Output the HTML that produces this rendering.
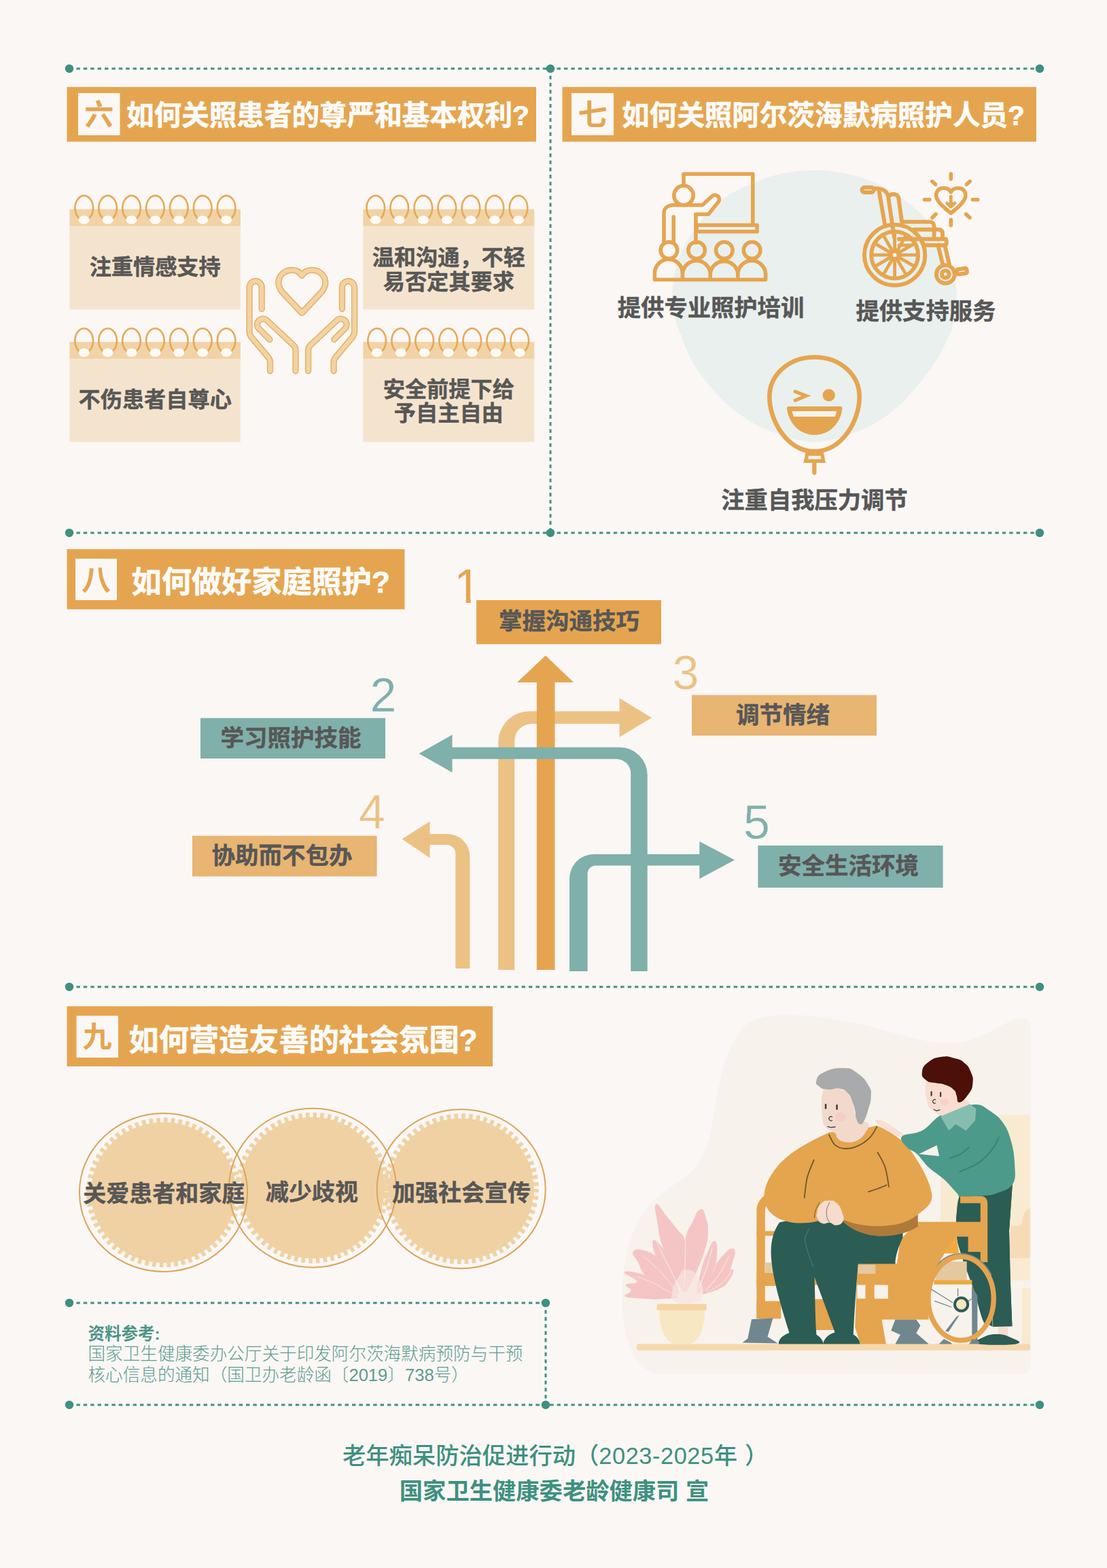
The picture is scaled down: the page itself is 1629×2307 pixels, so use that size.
<!DOCTYPE html>
<html lang="zh-CN">
<head>
<meta charset="utf-8">
<title>阿尔茨海默病照护核心信息</title>
<style>
html,body{margin:0;padding:0;background:#faf7f5;}
body{width:1629px;height:2307px;overflow:hidden;font-family:"Liberation Sans","Noto Sans CJK SC",sans-serif;}
svg{display:block;}
text{font-family:"Liberation Sans","Noto Sans CJK SC",sans-serif;}
.b{font-weight:700;}
.dk{fill:#575757;stroke:#575757;stroke-width:0.45px;stroke-linejoin:round;}
.ht{fill:#fdfbf8;stroke:#fdfbf8;stroke-width:0.7px;stroke-linejoin:round;}
.mid{text-anchor:middle;}
</style>
</head>
<body>
<svg width="1629" height="2307" viewBox="0 0 1629 2307">
<rect width="1629" height="2307" fill="#faf7f5"/>
<g id="dotted" stroke="#3e9080" stroke-width="3" stroke-dasharray="5.4 5" fill="none">
<path d="M102 101H1530"/>
<path d="M810 101V784"/>
<path d="M102 784H1530"/>
<path d="M102 1452H1530"/>
<path d="M102 1917H803"/>
<path d="M803 1917V2067"/>
<path d="M102 2067H1530"/>
</g>
<g id="dots" fill="#3e9080">
<circle cx="102" cy="101" r="6.2"/><circle cx="810" cy="101" r="6.2"/><circle cx="1530" cy="101" r="6.2"/>
<circle cx="102" cy="784" r="6.2"/><circle cx="810" cy="784" r="6.2"/><circle cx="1530" cy="784" r="6.2"/>
<circle cx="102" cy="1452" r="6.2"/><circle cx="1530" cy="1452" r="6.2"/>
<circle cx="102" cy="1917" r="6.2"/><circle cx="803" cy="1917" r="6.2"/>
<circle cx="102" cy="2067" r="6.2"/><circle cx="803" cy="2067" r="6.2"/><circle cx="1530" cy="2067" r="6.2"/>
</g>
<g id="headers">
<rect x="98.5" y="128" width="690.5" height="80.5" fill="#e5a550"/>
<rect x="115" y="137" width="61.5" height="62" fill="#faf7f5"/>
<text x="145.7" y="184" font-size="43" class="b mid" fill="#e5a550">六</text>
<text x="186" y="184" font-size="40.6" class="b ht">如何关照患者的尊严和基本权利?</text>

<rect x="827.5" y="128" width="697.5" height="80.5" fill="#e5a550"/>
<rect x="841" y="137" width="62" height="62" fill="#faf7f5"/>
<text x="872" y="184" font-size="43" class="b mid" fill="#e5a550">七</text>
<text x="915" y="184" font-size="40.6" class="b ht">如何关照阿尔茨海默病照护人员?</text>

<rect x="98.5" y="808" width="497" height="88.5" fill="#e5a550"/>
<rect x="111" y="822" width="61" height="61" fill="#faf7f5"/>
<text x="141.5" y="869" font-size="43" class="b mid" fill="#e5a550">八</text>
<text x="193.5" y="871.5" font-size="44.2" class="b ht">如何做好家庭照护?</text>

<rect x="98.5" y="1480.5" width="626.5" height="88.5" fill="#e5a550"/>
<rect x="112.5" y="1494.5" width="61.5" height="61.5" fill="#faf7f5"/>
<text x="143" y="1541" font-size="43" class="b mid" fill="#e5a550">九</text>
<text x="189.5" y="1546" font-size="44.2" class="b ht">如何营造友善的社会氛围?</text>
</g>
<g id="pads">
<rect x="102.4" y="307.9" width="251.5" height="147.6" fill="#f5e4cd"/>
<rect x="102.4" y="307.9" width="251.5" height="24.6" fill="#f1d3a6"/>
<ellipse cx="123.7" cy="306.1" rx="13.3" ry="18.2" fill="none" stroke="#e6a955" stroke-width="2.6"/>
<ellipse cx="123.7" cy="323.5" rx="8" ry="6.3" fill="#fdfaf6"/>
<ellipse cx="158.6" cy="306.1" rx="13.3" ry="18.2" fill="none" stroke="#e6a955" stroke-width="2.6"/>
<ellipse cx="158.6" cy="323.5" rx="8" ry="6.3" fill="#fdfaf6"/>
<ellipse cx="193.5" cy="306.1" rx="13.3" ry="18.2" fill="none" stroke="#e6a955" stroke-width="2.6"/>
<ellipse cx="193.5" cy="323.5" rx="8" ry="6.3" fill="#fdfaf6"/>
<ellipse cx="228.4" cy="306.1" rx="13.3" ry="18.2" fill="none" stroke="#e6a955" stroke-width="2.6"/>
<ellipse cx="228.4" cy="323.5" rx="8" ry="6.3" fill="#fdfaf6"/>
<ellipse cx="263.3" cy="306.1" rx="13.3" ry="18.2" fill="none" stroke="#e6a955" stroke-width="2.6"/>
<ellipse cx="263.3" cy="323.5" rx="8" ry="6.3" fill="#fdfaf6"/>
<ellipse cx="298.2" cy="306.1" rx="13.3" ry="18.2" fill="none" stroke="#e6a955" stroke-width="2.6"/>
<ellipse cx="298.2" cy="323.5" rx="8" ry="6.3" fill="#fdfaf6"/>
<ellipse cx="333.1" cy="306.1" rx="13.3" ry="18.2" fill="none" stroke="#e6a955" stroke-width="2.6"/>
<ellipse cx="333.1" cy="323.5" rx="8" ry="6.3" fill="#fdfaf6"/>
<text x="228.2" y="404.2" font-size="32.2" class="b dk mid">注重情感支持</text>
<rect x="534.4" y="307.9" width="251.8" height="147.6" fill="#f5e4cd"/>
<rect x="534.4" y="307.9" width="251.8" height="24.6" fill="#f1d3a6"/>
<ellipse cx="552.7" cy="306.1" rx="13.3" ry="18.2" fill="none" stroke="#e6a955" stroke-width="2.6"/>
<ellipse cx="552.7" cy="323.5" rx="8" ry="6.3" fill="#fdfaf6"/>
<ellipse cx="587.7" cy="306.1" rx="13.3" ry="18.2" fill="none" stroke="#e6a955" stroke-width="2.6"/>
<ellipse cx="587.7" cy="323.5" rx="8" ry="6.3" fill="#fdfaf6"/>
<ellipse cx="622.8" cy="306.1" rx="13.3" ry="18.2" fill="none" stroke="#e6a955" stroke-width="2.6"/>
<ellipse cx="622.8" cy="323.5" rx="8" ry="6.3" fill="#fdfaf6"/>
<ellipse cx="657.8" cy="306.1" rx="13.3" ry="18.2" fill="none" stroke="#e6a955" stroke-width="2.6"/>
<ellipse cx="657.8" cy="323.5" rx="8" ry="6.3" fill="#fdfaf6"/>
<ellipse cx="692.9" cy="306.1" rx="13.3" ry="18.2" fill="none" stroke="#e6a955" stroke-width="2.6"/>
<ellipse cx="692.9" cy="323.5" rx="8" ry="6.3" fill="#fdfaf6"/>
<ellipse cx="727.9" cy="306.1" rx="13.3" ry="18.2" fill="none" stroke="#e6a955" stroke-width="2.6"/>
<ellipse cx="727.9" cy="323.5" rx="8" ry="6.3" fill="#fdfaf6"/>
<ellipse cx="763.0" cy="306.1" rx="13.3" ry="18.2" fill="none" stroke="#e6a955" stroke-width="2.6"/>
<ellipse cx="763.0" cy="323.5" rx="8" ry="6.3" fill="#fdfaf6"/>
<text x="660.3" y="389.7" font-size="32.2" class="b dk mid">温和沟通，不轻</text>
<text x="660.3" y="425.7" font-size="32.2" class="b dk mid">易否定其要求</text>
<rect x="102.4" y="503.2" width="251.5" height="147" fill="#f5e4cd"/>
<rect x="102.4" y="503.2" width="251.5" height="24.6" fill="#f1d3a6"/>
<ellipse cx="123.7" cy="501.4" rx="13.3" ry="18.2" fill="none" stroke="#e6a955" stroke-width="2.6"/>
<ellipse cx="123.7" cy="518.8" rx="8" ry="6.3" fill="#fdfaf6"/>
<ellipse cx="158.6" cy="501.4" rx="13.3" ry="18.2" fill="none" stroke="#e6a955" stroke-width="2.6"/>
<ellipse cx="158.6" cy="518.8" rx="8" ry="6.3" fill="#fdfaf6"/>
<ellipse cx="193.5" cy="501.4" rx="13.3" ry="18.2" fill="none" stroke="#e6a955" stroke-width="2.6"/>
<ellipse cx="193.5" cy="518.8" rx="8" ry="6.3" fill="#fdfaf6"/>
<ellipse cx="228.4" cy="501.4" rx="13.3" ry="18.2" fill="none" stroke="#e6a955" stroke-width="2.6"/>
<ellipse cx="228.4" cy="518.8" rx="8" ry="6.3" fill="#fdfaf6"/>
<ellipse cx="263.3" cy="501.4" rx="13.3" ry="18.2" fill="none" stroke="#e6a955" stroke-width="2.6"/>
<ellipse cx="263.3" cy="518.8" rx="8" ry="6.3" fill="#fdfaf6"/>
<ellipse cx="298.2" cy="501.4" rx="13.3" ry="18.2" fill="none" stroke="#e6a955" stroke-width="2.6"/>
<ellipse cx="298.2" cy="518.8" rx="8" ry="6.3" fill="#fdfaf6"/>
<ellipse cx="333.1" cy="501.4" rx="13.3" ry="18.2" fill="none" stroke="#e6a955" stroke-width="2.6"/>
<ellipse cx="333.1" cy="518.8" rx="8" ry="6.3" fill="#fdfaf6"/>
<text x="228.2" y="598.5" font-size="32.2" class="b dk mid">不伤患者自尊心</text>
<rect x="534.4" y="503.2" width="251.8" height="147" fill="#f5e4cd"/>
<rect x="534.4" y="503.2" width="251.8" height="24.6" fill="#f1d3a6"/>
<ellipse cx="554.7" cy="501.4" rx="13.3" ry="18.2" fill="none" stroke="#e6a955" stroke-width="2.6"/>
<ellipse cx="554.7" cy="518.8" rx="8" ry="6.3" fill="#fdfaf6"/>
<ellipse cx="589.7" cy="501.4" rx="13.3" ry="18.2" fill="none" stroke="#e6a955" stroke-width="2.6"/>
<ellipse cx="589.7" cy="518.8" rx="8" ry="6.3" fill="#fdfaf6"/>
<ellipse cx="624.7" cy="501.4" rx="13.3" ry="18.2" fill="none" stroke="#e6a955" stroke-width="2.6"/>
<ellipse cx="624.7" cy="518.8" rx="8" ry="6.3" fill="#fdfaf6"/>
<ellipse cx="659.7" cy="501.4" rx="13.3" ry="18.2" fill="none" stroke="#e6a955" stroke-width="2.6"/>
<ellipse cx="659.7" cy="518.8" rx="8" ry="6.3" fill="#fdfaf6"/>
<ellipse cx="694.7" cy="501.4" rx="13.3" ry="18.2" fill="none" stroke="#e6a955" stroke-width="2.6"/>
<ellipse cx="694.7" cy="518.8" rx="8" ry="6.3" fill="#fdfaf6"/>
<ellipse cx="729.7" cy="501.4" rx="13.3" ry="18.2" fill="none" stroke="#e6a955" stroke-width="2.6"/>
<ellipse cx="729.7" cy="518.8" rx="8" ry="6.3" fill="#fdfaf6"/>
<ellipse cx="764.7" cy="501.4" rx="13.3" ry="18.2" fill="none" stroke="#e6a955" stroke-width="2.6"/>
<ellipse cx="764.7" cy="518.8" rx="8" ry="6.3" fill="#fdfaf6"/>
<text x="660.3" y="583.7" font-size="32.2" class="b dk mid">安全前提下给</text>
<text x="660.3" y="618.7" font-size="32.2" class="b dk mid">予自主自由</text>
</g>
<g id="hands" fill="none" stroke-linecap="round" stroke-linejoin="round">
<g stroke="#e6ad62" stroke-width="9.2">
<path d="M444.3 405.5C441 399.5 435.5 397.4 429.5 397.4C418.5 397.4 409.8 405.5 409.8 416C409.8 422.5 412.5 427 417.5 432L444.3 460.5L471.1 432C476.1 427 478.8 422.5 478.8 416C478.8 405.5 470.1 397.4 459.1 397.4C453.1 397.4 447.6 399.5 444.3 405.5Z"/>
<path d="M385.2 454.4V422.7A9.1 9.1 0 0 0 367 422.7V488C367 491 367.8 493 369.5 495.5L395 526C396.8 528.3 397.5 530 397.5 533V545.8"/>
<path d="M396.9 499.5L381 483.5A8.2 8.2 0 0 1 393 471.5L432 508C434.3 510.3 435 512 435 515V545.8"/>
<path d="M503.4 454.4V422.7A9.1 9.1 0 0 1 521.6 422.7V488C521.6 491 520.8 493 519.1 495.5L493.6 526C491.8 528.3 491.1 530 491.1 533V545.8"/>
<path d="M491.7 499.5L507.6 483.5A8.2 8.2 0 0 0 495.6 471.5L456.6 508C454.3 510.3 453.6 512 453.6 515V545.8"/>
</g>
<g stroke="#f2d3a2" stroke-width="6.4">
<path d="M444.3 405.5C441 399.5 435.5 397.4 429.5 397.4C418.5 397.4 409.8 405.5 409.8 416C409.8 422.5 412.5 427 417.5 432L444.3 460.5L471.1 432C476.1 427 478.8 422.5 478.8 416C478.8 405.5 470.1 397.4 459.1 397.4C453.1 397.4 447.6 399.5 444.3 405.5Z"/>
<path d="M385.2 454.4V422.7A9.1 9.1 0 0 0 367 422.7V488C367 491 367.8 493 369.5 495.5L395 526C396.8 528.3 397.5 530 397.5 533V545.8"/>
<path d="M396.9 499.5L381 483.5A8.2 8.2 0 0 1 393 471.5L432 508C434.3 510.3 435 512 435 515V545.8"/>
<path d="M503.4 454.4V422.7A9.1 9.1 0 0 1 521.6 422.7V488C521.6 491 520.8 493 519.1 495.5L493.6 526C491.8 528.3 491.1 530 491.1 533V545.8"/>
<path d="M491.7 499.5L507.6 483.5A8.2 8.2 0 0 0 495.6 471.5L456.6 508C454.3 510.3 453.6 512 453.6 515V545.8"/>
</g>
</g>
<g id="sec7">
<path id="blob" d="M1198.0 250.5C1215.5 250.1 1229.7 252.3 1245.0 255.5C1260.3 258.7 1275.8 263.2 1290.0 269.5C1304.2 275.8 1318.0 284.2 1330.0 293.0C1342.0 301.8 1352.3 310.8 1362.0 322.0C1371.7 333.2 1381.3 347.8 1388.0 360.0C1394.7 372.2 1398.8 383.3 1402.0 395.0C1405.2 406.7 1406.7 418.3 1407.0 430.0C1407.3 441.7 1405.6 454.6 1404.0 465.0C1402.4 475.4 1403.0 479.5 1397.3 492.3C1391.6 505.1 1382.8 524.0 1370.0 541.7C1357.2 559.4 1338.0 583.2 1320.8 598.4C1303.5 613.6 1287.1 624.4 1266.5 633.0C1245.9 641.6 1220.0 650.3 1197.4 650.3C1174.8 650.3 1151.4 641.6 1130.8 633.0C1110.2 624.4 1091.7 613.6 1074.0 598.4C1056.3 583.2 1037.0 560.2 1024.7 541.7C1012.4 523.2 1005.6 501.0 1000.0 487.4C994.4 473.8 992.8 469.6 991.0 460.0C989.2 450.4 988.8 441.3 989.5 430.0C990.2 418.7 991.8 404.0 995.0 392.0C998.2 380.0 1003.2 368.8 1009.0 358.0C1014.8 347.2 1022.3 336.7 1030.0 327.0C1037.7 317.3 1045.8 307.8 1055.0 300.0C1064.2 292.2 1070.8 287.0 1085.0 280.0C1099.2 273.0 1121.2 262.9 1140.0 258.0C1158.8 253.1 1180.5 250.9 1198.0 250.5Z" fill="#e9f0ee"/>
<g id="train" fill="none" stroke="#e5a550" stroke-width="5.6" stroke-linejoin="round" stroke-linecap="round">
<path d="M1006 272V256H1107.8V329"/>
<rect x="1025.1" y="331.3" width="89" height="9.4"/>
<circle cx="1006" cy="287.5" r="14.2"/>
<path d="M977 357V314C977 306 983 301.7 991 301.7H1033.5L1048 288.5A6.3 6.3 0 0 1 1057.5 296.5L1042.5 315.3H1023.9V357"/>
<path d="M991.2 319V357"/>
<circle cx="984.4" cy="368.3" r="12.3"/>
<circle cx="1025.1" cy="368.3" r="12.3"/>
<circle cx="1065.8" cy="368.3" r="12.3"/>
<circle cx="1106.6" cy="368.3" r="12.3"/>
<path d="M963.4 411.5V402A20.5 20.5 0 0 1 1004.4 402V411.5M1004.4 402A20.5 20.5 0 0 1 1045.2 402V411.5M1045.2 402A20.5 20.5 0 0 1 1085.8 402V411.5M1085.8 402A20.5 20.5 0 0 1 1126.6 402V411.5M963.4 411.5H1126.6"/>
</g>
<g id="wheelchair" transform="translate(0 1.3)" fill="none" stroke="#e5a550" stroke-width="5.9" stroke-linejoin="round" stroke-linecap="round">
<circle cx="1316.6" cy="373.9" r="44.6"/>
<circle cx="1316.6" cy="373.9" r="34.4"/>
<path d="M1323.6 373.9L1350.6 373.9M1322.7 377.4L1346.1 390.9M1320.1 379.9L1333.6 403.3M1316.6 380.9L1316.6 407.9M1313.1 379.9L1299.6 403.3M1310.6 377.4L1287.2 390.9M1309.6 373.9L1282.6 373.9M1310.6 370.4L1287.2 356.9M1313.1 367.8L1299.6 344.4M1316.6 366.9L1316.6 339.9M1320.1 367.8L1333.6 344.4M1322.7 370.4L1346.1 356.9" stroke-width="4.8"/>
<circle cx="1316.6" cy="373.9" r="5.4" stroke-width="5"/>
<rect x="1268.5" y="274.5" width="17.3" height="7.2" rx="3.5"/>
<path d="M1293.8 281.3L1302.4 330.7"/>
<path d="M1287.0 276.0C1299.4 276.0 1305.5 279.5 1307.0 288.1L1316.0 348.6"/>
<path d="M1308.0 287.5C1310.5 283.2 1320.3 283.2 1322.2 289.4L1327.1 325.1"/>
<path d="M1329.6 325.1L1367.2 325.1Q1374.6 325.1 1374.6 332.5L1374.6 349.2"/>
<path d="M1345.0 336.5L1380.8 336.5Q1387.0 336.5 1387.0 342.4L1387.0 349.2"/>
<path d="M1322.8 350.4L1391.9 350.4Q1393.7 354.7 1391.9 359.4L1359.8 359.4"/>
<path d="M1322.8 359.4L1341.3 359.4" stroke-width="4.4"/>
<path d="M1380.8 361.5L1387.2 387.4M1390.7 361.5L1397.1 388.1"/>
<circle cx="1391.3" cy="402.2" r="13.4"/>
<circle cx="1391.3" cy="402.2" r="5.4"/>
<rect x="1407.8" y="394.2" width="15" height="7.4" rx="2" transform="rotate(-8 1415.3 397.9)"/>
</g>
<g id="hrt" transform="translate(0 1.3)" fill="none" stroke="#e5a550" stroke-width="5.6" stroke-linejoin="round" stroke-linecap="round">
<path d="M1399.3 281.3C1395.6 274.5 1389.4 275.2 1385.7 275.8C1379.5 277.0 1377.1 282.6 1377.7 287.5C1378.9 294.3 1384.5 300.5 1399.3 312.2C1414.1 300.5 1419.6 294.3 1420.9 287.5C1421.5 282.6 1419.0 277.0 1412.9 275.8C1409.2 275.2 1403.0 274.5 1399.3 281.3Z"/>
<path d="M1399.3 287.5L1399.3 302.3M1393.7 297.7L1399.3 302.9L1404.8 297.7" stroke-width="4.8"/>
<path d="M1399.3 254.6L1399.3 262.0M1399.3 322.0L1399.3 330.1M1360.4 292.4L1367.8 292.4M1431.4 292.4L1438.8 292.4M1371.9 265.7L1376.5 270.0M1427.1 265.7L1422.5 270.0M1371.9 319.0L1377.1 313.8M1421.5 313.8L1427.1 319.0"/>
</g>
<g id="balloon" fill="none" stroke="#e5a550" stroke-width="6.6" stroke-linejoin="round" stroke-linecap="round">
<path d="M1198.7 525.5C1237.0 525.5 1264.7 551.8 1264.7 583.9C1264.7 618.4 1239.4 664.1 1198.7 664.1C1158.0 664.1 1132.3 618.4 1132.3 583.9C1132.3 551.8 1160.5 525.5 1198.7 525.5Z"/>
<path d="M1187.8 668.0L1209.6 668.0L1211.7 678.3L1185.7 678.3Z" stroke-width="5.4" stroke-linejoin="miter"/>
<path d="M1198.3 681.4L1198.3 695.6" stroke-width="6.2"/>
<path d="M1170.1 576.2L1186.4 582.4L1170.1 589.1" stroke-width="5" stroke-linejoin="miter"/>
<circle cx="1219.7" cy="581.4" r="9.2" fill="#e5a550" stroke="none"/>
<path d="M1160.5 598.1L1237.0 598.1Q1239.7 598.1 1239.4 601.2C1237.0 623.4 1219.7 640.0 1198.7 640.0C1177.7 640.0 1160.5 623.4 1158.0 601.2Q1157.7 598.1 1160.5 598.1Z" fill="#e5a550" stroke="none"/>
<path d="M1165.4 604.9L1231.4 604.9L1228.9 612.9L1167.9 612.9Z" fill="#f3f3ee" stroke="none"/>
</g>
<text x="1046" y="465" font-size="34.3" class="b dk mid">提供专业照护培训</text>
<text x="1362.4" y="470" font-size="34.3" class="b dk mid">提供支持服务</text>
<text x="1198.5" y="748" font-size="34.3" class="b dk mid">注重自我压力调节</text>
</g>
<g id="sec8">
<path id="arrow3" fill="#ecc284" d="M733.2 1427V1092.5A46 46 0 0 1 779.2 1046.5H911.6V1027.3L959 1056L911.6 1084.6V1065H782.2A25 25 0 0 0 757.2 1090V1427Z"/>
<path id="arrow1" fill="#e5a550" d="M789.8 1427V1004H761L802.8 964.4L844.2 1004H816.5V1427Z"/>
<path id="arrow2" fill="#80b0aa" d="M952.7 1429V1140.5A41 41 0 0 0 911.7 1099.5H665.5V1081L616.6 1108.7L665.5 1136.5V1116.8H907.2A21 21 0 0 1 928.2 1137.8V1429Z"/>
<path id="arrow4" fill="#ecc284" d="M691.4 1425V1260A33 33 0 0 0 658.4 1227H632.5V1208.6L591.5 1234.5L632.5 1262.3V1243H657.3A13 13 0 0 1 670.3 1256V1425Z"/>
<path id="arrow5" fill="#80b0aa" d="M838 1429V1292.8A36 36 0 0 1 874 1256.8H1029.3V1238L1081 1265.3L1029.3 1293V1273.4H876.6A12 12 0 0 0 864.6 1285.4V1429Z"/>

<rect x="701" y="883" width="272" height="64.7" fill="#e5a550"/>
<text x="837.5" y="925.5" font-size="34.5" class="b dk mid">掌握沟通技巧</text>
<rect x="295" y="1056.5" width="272" height="59.5" fill="#80b0aa"/>
<text x="428" y="1098.2" font-size="34.5" class="b dk mid">学习照护技能</text>
<rect x="1018" y="1022.6" width="272" height="59.8" fill="#e8b572"/>
<text x="1152" y="1064.2" font-size="34.5" class="b dk mid">调节情绪</text>
<rect x="283" y="1229.7" width="271.6" height="59.8" fill="#e8b572"/>
<text x="415" y="1271.4" font-size="34.5" class="b dk mid">协助而不包办</text>
<rect x="1115.4" y="1244" width="272.2" height="62" fill="#80b0aa"/>
<text x="1248.5" y="1286.3" font-size="34.5" class="b dk mid">安全生活环境</text>

<clipPath id="c1"><path d="M660 820H700V880H692.6V890H685.7V880H660Z"/></clipPath>
<g font-size="70" class="mid" stroke="#faf7f5" stroke-width="0.4">
<text id="n1" x="687.8" y="887.2" fill="#e5a550" stroke="none" clip-path="url(#c1)">1</text>
<text id="n2" x="564" y="1047.4" fill="#80b0aa">2</text>
<text id="n3" x="1009" y="1013.6" fill="#ebc284">3</text>
<text id="n4" x="547.5" y="1218.6" fill="#ebc284">4</text>
<text id="n5" x="1113.4" y="1234.2" fill="#80b0aa">5</text>
</g>
</g>
<g id="sec9">
<g transform="translate(240.5 1754.5) scale(1 0.9698)"><circle r="106.6" fill="#f0d1a3"/><circle r="109.9" fill="none" stroke="#f0d1a3" stroke-width="7.6" stroke-dasharray="5.610 5.179"/></g>
<g transform="translate(460 1747.7) scale(1 0.9810)"><circle r="106.0" fill="#f0d1a3"/><circle r="109.3" fill="none" stroke="#f0d1a3" stroke-width="7.6" stroke-dasharray="5.580 5.151"/></g>
<g transform="translate(678.7 1749.2) scale(1 0.9718)"><circle r="107.0" fill="#f0d1a3"/><circle r="110.3" fill="none" stroke="#f0d1a3" stroke-width="7.6" stroke-dasharray="5.631 5.198"/></g>
<ellipse cx="240.5" cy="1754.5" rx="123.6" ry="116.4" fill="none" stroke="#dca45a" stroke-width="2"/>
<ellipse cx="460" cy="1747.7" rx="123.0" ry="117.0" fill="none" stroke="#dca45a" stroke-width="2"/>
<ellipse cx="678.7" cy="1749.2" rx="124.0" ry="117.0" fill="none" stroke="#dca45a" stroke-width="2"/>
<text x="241.2" y="1768.3" font-size="34" class="b dk mid">关爱患者和家庭</text>
<text x="459" y="1766" font-size="34" class="b dk mid">减少歧视</text>
<text x="679" y="1767" font-size="34" class="b dk mid">加强社会宣传</text>
</g>
<g id="ref" fill="#5c9d90">
<text x="129.5" y="1970.5" font-size="24.5" font-weight="700" fill="#4d9586">资料参考:</text>
<text x="129.5" y="2001" font-size="25.6" font-weight="300">国家卫生健康委办公厅关于印发阿尔茨海默病预防与干预</text>
<text x="129.5" y="2031.7" font-size="25.6" font-weight="300">核心信息的通知（国卫办老龄函〔2019〕738号）</text>
</g>
<g id="footer" fill="#3e9080" class="mid">
<text x="504" y="2153.5" font-size="34.3" font-weight="500" text-anchor="start">老年痴呆防治促进行动（<tspan letter-spacing="0.6">2023-2025</tspan>年<tspan dx="11">）</tspan></text>
<text x="815.5" y="2205.7" font-size="34.3" class="b">国家卫生健康委老龄健康司 宣</text>
</g>
<g id="illus">
<path d="M1117.6 1497.5C1148.7 1489.7 1195.4 1493.6 1249.8 1503.3C1304.2 1513.0 1358.6 1538.3 1405.2 1534.4C1444.1 1531.3 1475.2 1503.3 1498.5 1498.7C1512.1 1496.3 1517.2 1503.3 1517.2 1518.9L1517.2 2000.8C1517.2 2016.3 1512.1 2022.2 1498.5 2022.2L977.7 2022.2C946.6 2022.2 923.3 1996.9 917.5 1938.6C911.7 1880.3 919.4 1822.0 950.5 1779.3C977.7 1744.3 1016.6 1736.5 1034.1 1701.5C1051.6 1666.6 1051.6 1608.3 1067.1 1561.6C1078.8 1526.6 1094.3 1503.3 1117.6 1497.5Z" fill="#f7f2ec"/>
<path d="M1468.7 1646.0Q1468.7 1640.3 1474.4 1640.3L1515.7 1640.3L1515.7 1883.7L1468.7 1883.7Z" fill="#f8ebd2"/>
<rect x="1384.3" y="1732.3" width="32.6" height="67.1" fill="#f8ead0"/>
<path d="M1515.7 1778.3C1508.0 1780.2 1505.1 1787.9 1504.2 1797.4C1503.2 1803.2 1499.4 1803.6 1486.9 1804.2L1486.3 1851.1L1515.7 1851.1Z" fill="#f6dcb6"/>
<rect x="1503.6" y="1895.2" width="12.1" height="83.4" fill="#f8ead0"/>
<rect x="937" y="1977.3" width="579" height="9.4" rx="3" fill="#f6d8ad"/>
<path d="M965.4 1771.8C969.3 1769.2 973.8 1781.0 982.7 1791.6C991.5 1802.1 992.1 1802.7 998.7 1811.3C1005.3 1819.9 1002.7 1811.1 1007.3 1823.6C1011.9 1836.1 1015.6 1838.4 1016.0 1858.2C1016.3 1877.9 1013.2 1889.1 1008.6 1897.7C1004.0 1906.2 1004.6 1900.1 998.7 1890.3C992.8 1880.4 992.9 1876.4 986.4 1860.7C979.8 1844.9 979.0 1846.8 974.0 1831.0C969.1 1815.2 970.2 1817.2 967.9 1801.4C965.6 1785.6 961.4 1774.5 965.4 1771.8Z" fill="#f5c5c5"/>
<path d="M1030.8 1779.2C1036.4 1777.9 1036.5 1784.8 1039.4 1794.0C1042.4 1803.2 1042.2 1802.6 1041.9 1813.8C1041.6 1825.0 1041.8 1822.8 1038.2 1836.0C1034.6 1849.1 1034.2 1848.6 1028.3 1863.1C1022.4 1877.6 1021.6 1881.1 1016.0 1890.3C1010.4 1899.5 1010.0 1906.2 1007.3 1897.7C1004.7 1889.1 1005.8 1877.9 1006.1 1858.2C1006.4 1838.4 1005.3 1839.4 1008.6 1823.6C1011.9 1807.8 1012.5 1810.8 1018.4 1799.0C1024.4 1787.1 1025.2 1780.5 1030.8 1779.2Z" fill="#f5c5c5"/>
<path d="M960.5 1826.1C962.4 1819.5 971.1 1831.0 979.0 1840.9C986.9 1850.8 985.1 1848.0 990.1 1863.1C995.0 1878.3 998.5 1890.4 997.5 1897.7C996.5 1904.9 993.3 1898.8 986.4 1890.3C979.5 1881.7 978.5 1882.7 971.6 1865.6C964.7 1848.5 958.5 1832.7 960.5 1826.1Z" fill="#f5c5c5"/>
<path d="M932.1 1840.9C936.0 1836.6 943.1 1837.5 954.3 1842.1C965.5 1846.8 964.2 1846.7 974.0 1858.2C983.9 1869.7 985.1 1872.8 991.3 1885.3C997.6 1897.8 1002.1 1903.1 997.5 1905.1C992.9 1907.0 986.9 1900.6 974.0 1892.7C961.2 1884.8 958.6 1884.7 949.4 1875.5C940.1 1866.2 944.1 1867.4 939.5 1858.2C934.9 1849.0 928.1 1845.2 932.1 1840.9Z" fill="#f5c5c5"/>
<path d="M918.5 1871.8C920.2 1869.2 931.5 1870.5 944.4 1874.2C957.4 1878.0 961.6 1880.3 974.0 1887.8C986.4 1895.3 997.5 1900.8 997.5 1906.3C997.5 1911.8 986.4 1910.3 974.0 1911.2C961.6 1912.2 957.1 1911.4 944.4 1910.5C931.7 1909.6 923.5 1910.2 919.7 1907.5C916.0 1904.8 928.1 1902.9 928.4 1898.9C928.7 1894.9 919.0 1893.4 921.0 1890.3C923.0 1887.1 937.6 1889.6 937.0 1885.3C936.4 1881.0 916.8 1874.3 918.5 1871.8Z" fill="#f5c5c5"/>
<path d="M1051.8 1826.1C1055.6 1827.4 1056.0 1835.8 1055.0 1848.3C1054.0 1860.8 1053.2 1860.5 1048.1 1873.0C1042.9 1885.5 1041.6 1888.0 1035.7 1895.2C1029.8 1902.4 1027.2 1906.1 1025.8 1900.1C1024.5 1894.2 1026.8 1888.1 1030.8 1873.0C1034.7 1857.9 1035.1 1855.9 1040.7 1843.4C1046.2 1830.9 1047.9 1824.8 1051.8 1826.1Z" fill="#f5c5c5"/>
<path d="M1079.6 1837.2C1084.2 1839.2 1080.8 1847.3 1077.7 1858.2C1074.5 1869.0 1075.7 1867.7 1067.8 1877.9C1059.9 1888.1 1057.3 1890.2 1048.1 1896.4C1038.8 1902.7 1033.3 1907.6 1033.3 1901.4C1033.3 1895.1 1040.8 1886.5 1048.1 1873.0C1055.3 1859.5 1052.0 1860.3 1060.4 1850.8C1068.8 1841.2 1075.0 1835.2 1079.6 1837.2Z" fill="#f5c5c5"/>
<path d="M1078.9 1868.1C1080.2 1870.7 1078.3 1876.5 1072.7 1884.1C1067.1 1891.7 1068.5 1891.5 1057.9 1896.4C1047.4 1901.4 1034.6 1904.9 1033.3 1902.6C1031.9 1900.3 1043.8 1895.4 1053.0 1887.8C1062.2 1880.2 1060.9 1879.5 1067.8 1874.2C1074.7 1869.0 1077.6 1865.4 1078.9 1868.1Z" fill="#f5c5c5"/>
<path d="M998.7 1877.9C1004.6 1868.7 1003.1 1867.4 1011.0 1868.1C1018.9 1868.7 1022.4 1869.9 1028.3 1880.4C1034.2 1890.9 1036.5 1897.7 1033.3 1907.5C1030.0 1917.4 1026.5 1915.4 1016.0 1917.4C1005.4 1919.4 1001.0 1918.9 993.8 1914.9C986.5 1911.0 987.5 1912.5 988.8 1902.6C990.2 1892.7 992.8 1887.1 998.7 1877.9Z" fill="#f8e4e0" fill-opacity="0.7"/>
<path d="M966.6 1828.6C968.7 1832.7 974.9 1845.0 979.0 1853.3C983.1 1861.5 987.8 1870.5 991.3 1877.9C994.8 1885.3 998.5 1894.4 999.9 1897.7" fill="none" stroke="#f7f2ec" stroke-width="1.1" stroke-linecap="round" opacity="0.75"/>
<path d="M946.9 1848.3C950.6 1851.6 962.5 1861.5 969.1 1868.1C975.7 1874.6 981.6 1881.8 986.4 1887.8C991.1 1893.8 995.6 1901.2 997.5 1903.8" fill="none" stroke="#f7f2ec" stroke-width="1.0" stroke-linecap="round" opacity="0.75"/>
<path d="M937.0 1877.9C941.1 1879.6 953.9 1884.1 961.7 1887.8C969.5 1891.5 977.9 1896.9 983.9 1900.1C989.9 1903.3 995.2 1905.9 997.5 1907.0" fill="none" stroke="#f7f2ec" stroke-width="1.0" stroke-linecap="round" opacity="0.75"/>
<path d="M1008.6 1826.1C1008.5 1831.5 1008.4 1847.1 1008.1 1858.2C1007.8 1869.3 1006.8 1887.0 1006.6 1892.7" fill="none" stroke="#f7f2ec" stroke-width="1.1" stroke-linecap="round" opacity="0.75"/>
<path d="M1048.1 1836.0C1046.8 1840.5 1043.9 1853.3 1040.7 1863.1C1037.4 1873.0 1030.4 1889.9 1028.3 1895.2" fill="none" stroke="#f7f2ec" stroke-width="1.3" stroke-linecap="round" opacity="0.75"/>
<path d="M1072.7 1848.3C1070.3 1852.8 1063.7 1867.0 1057.9 1875.5C1052.2 1883.9 1041.5 1895.0 1038.2 1898.9" fill="none" stroke="#f7f2ec" stroke-width="1.1" stroke-linecap="round" opacity="0.75"/>
<path d="M1076.4 1870.5C1074.2 1873.4 1068.8 1882.7 1062.9 1887.8C1056.9 1892.9 1044.4 1899.1 1040.7 1901.4" fill="none" stroke="#f7f2ec" stroke-width="1.0" stroke-linecap="round" opacity="0.75"/>
<path d="M970.3 1924.8L1037.0 1924.8C1037.7 1942.1 1034.5 1956.9 1027.1 1968.0C1023.4 1974.2 1018.4 1977.1 1012.3 1977.1L995.0 1977.1C988.8 1977.1 983.9 1974.2 980.2 1968.0C972.8 1956.9 969.6 1942.1 970.3 1924.8Z" fill="#f8e7c3"/>
<rect x="966.6" y="1918.6" width="73.3" height="9.1" fill="#f6d4a4" rx="2.5"/>
<path d="M1412.1 1756.2L1489.8 1742.8L1485.0 1810.9L1486.9 1887.5L1489.4 1951.2L1461.4 1951.9L1460.6 1906.7L1457.2 1885.6L1447.6 1866.5L1434.2 1855.9L1422.7 1855.0L1418.8 1855.0L1432.3 1895.2L1447.6 1943.1L1453.4 1945.0L1460.1 1914.4L1460.6 1951.9L1447.6 1945.0L1432.3 1896.2L1417.3 1855.0L1408.9 1826.2L1407.0 1791.7Z" fill="#2b5d54"/>
<path d="M1407.3 1791.7C1406.6 1802.9 1407.0 1815.3 1408.9 1826.2C1410.8 1837.1 1415.0 1845.4 1418.8 1856.9C1422.7 1868.4 1427.6 1880.8 1432.3 1895.2C1436.9 1909.6 1443.1 1934.8 1446.6 1943.1C1450.2 1951.4 1451.2 1949.5 1453.4 1945.0C1455.5 1940.6 1459.0 1926.5 1459.5 1916.3C1460.0 1906.1 1457.6 1894.9 1456.2 1883.7C1454.9 1872.5 1451.9 1864.5 1451.4 1849.2C1451.0 1833.9 1456.2 1806.1 1453.4 1791.7C1450.5 1777.3 1440.9 1768.4 1434.2 1762.9C1427.5 1757.5 1417.6 1754.3 1413.1 1759.1C1408.6 1763.9 1408.1 1780.5 1407.3 1791.7Z" fill="#2b5d54"/>
<path d="M1453.4 1757.2L1489.8 1742.8L1485.0 1810.9L1486.9 1887.5L1489.4 1951.2L1461.4 1951.9L1460.1 1887.5L1453.4 1849.2Z" fill="#2b5d54"/>
<rect x="1468.7" y="1951.9" width="14.4" height="14.2" fill="#f6dccf"/>
<path d="M1439.9 1977.2C1428.2 1975.1 1439.4 1971.4 1445.7 1968.0C1451.9 1964.7 1456.9 1962.9 1466.8 1962.9C1476.6 1962.9 1481.1 1964.7 1487.9 1968.0C1494.7 1971.4 1507.1 1975.1 1495.9 1977.2C1484.7 1979.4 1451.7 1979.4 1439.9 1977.2Z" fill="#2b5d54"/>
<path d="M1430.0 1891.4L1438.4 1906.7L1438.4 1971.9L1430.4 1971.9Z" fill="#71878f"/>
<path d="M1413.1 1764.9L1442.8 1764.9Q1448.0 1764.9 1448.0 1770.6L1448.0 1856.9" fill="none" stroke="#e5a44e" stroke-width="10.5" stroke-linecap="butt"/>
<rect x="1405.4" y="1798.4" width="38.3" height="18.2" fill="#e5a44e"/>
<rect x="1424.6" y="1816.6" width="19.2" height="25.3" fill="#e5a44e"/>
<rect x="1376.7" y="1855.9" width="46.0" height="27.8" fill="#e6c89f"/>
<rect x="1374.4" y="1883.3" width="56.0" height="6.5" fill="#eda83f"/>
<ellipse cx="1414.1" cy="1910.5" rx="49.7" ry="62.9" fill="none" stroke="#71878f" stroke-width="8" stroke-dasharray="150 400" stroke-dashoffset="-170" opacity="0.9"/>
<ellipse cx="1414.1" cy="1910.5" rx="48.1" ry="61.5" fill="none" stroke="#e5a44e" stroke-width="7.4"/>
<path d="M1370.9 1897.1C1376.0 1900.3 1396.5 1913.1 1401.6 1916.3" fill="none" stroke="#71878f" stroke-width="1.3" stroke-linecap="round"/>
<path d="M1375.7 1914.4C1379.7 1915.8 1395.7 1921.6 1399.7 1923.0" fill="none" stroke="#71878f" stroke-width="1.3" stroke-linecap="round"/>
<path d="M1409.6 1896.2C1409.6 1897.9 1409.6 1905.0 1409.6 1906.7" fill="none" stroke="#71878f" stroke-width="1.3" stroke-linecap="round"/>
<path d="M1424.6 1914.4C1426.2 1913.4 1432.6 1909.6 1434.2 1908.6" fill="none" stroke="#71878f" stroke-width="1.3" stroke-linecap="round"/>
<path d="M1412.1 1934.5L1407.3 1937.4L1391.1 1958.5L1395.8 1959.4Z" fill="#71878f"/>
<circle cx="1414.6" cy="1919.2" r="9.6" fill="#f8e6c0" stroke="#2b5d54" stroke-width="4"/>
<path d="M1119.6 1939.6L1119.6 1781.7Q1119.6 1766.9 1136.9 1759.5" fill="none" stroke="#e5a44e" stroke-width="12.4"/>
<rect x="1113.4" y="1811.3" width="33.3" height="6.9" fill="#e5a44e"/>
<rect x="1125.0" y="1857.7" width="13.1" height="15.8" fill="#e6c89f"/>
<rect x="1113.4" y="1873.0" width="33.3" height="19.0" fill="#e5a44e"/>
<rect x="1113.4" y="1914.4" width="35.8" height="25.7" fill="#e5a44e"/>
<path d="M1261.9 1859.0L1319.9 1859.0L1324.8 1824.4L1349.5 1797.8L1443.8 1797.8L1443.8 1819.5L1407.5 1819.5L1391.4 1841.7L1371.7 1873.8L1363.1 1908.3L1366.8 1941.6L1297.7 1941.6L1303.8 1977.4L1266.1 1977.4L1258.2 1952.7Z" fill="#e5a44e"/>
<path d="M1387.7 1844.2L1407.5 1819.5L1411.2 1844.2Z" fill="#f0aa3e"/>
<rect x="1262.6" y="1860.9" width="25.7" height="13.3" fill="#e6c89f"/>
<rect x="1261.4" y="1890.5" width="12.1" height="20.2" fill="#f7f2ec"/>
<rect x="1286.6" y="1890.5" width="20.2" height="20.2" fill="#f7f2ec"/>
<rect x="1196.1" y="1858.2" width="34.5" height="98.7" fill="#e5a44e"/>
<rect x="1199.1" y="1890.8" width="21.7" height="20.5" fill="#f7f2ec"/>
<path d="M1106.0 1940.9L1137.4 1939.6L1129.5 1966.8L1144.8 1976.6L1092.5 1975.6L1100.4 1969.2Z" fill="#71878f"/>
<path d="M1317.4 1941.6L1348.3 1941.6L1354.4 1950.3L1348.3 1961.4L1366.8 1977.4L1317.4 1977.4L1324.8 1963.8L1311.2 1957.7Z" fill="#71878f"/>
<path d="M1381.6 1977.4L1389.0 1970.0L1398.8 1974.9L1401.3 1977.4Z" fill="#71878f"/>
<path d="M1426.0 1977.4L1430.9 1970.0L1440.8 1973.7L1440.8 1977.4Z" fill="#71878f"/>
<path d="M1147.1 1798.5C1137.3 1812.1 1133.6 1829.4 1134.8 1849.1C1136.3 1873.8 1144.7 1908.3 1162.4 1963.8L1201.4 1963.8C1199.5 1937.9 1199.5 1908.3 1198.5 1878.7L1229.8 1963.8L1255.7 1963.8C1257.2 1928.1 1260.2 1893.5 1262.6 1859.5L1317.4 1859.5C1317.4 1849.1 1321.1 1836.8 1328.5 1820.7L1328.5 1794.8L1186.6 1789.9Z" fill="#2b5d54"/>
<path d="M1190.3 1808.4C1189.4 1810.6 1185.1 1816.8 1184.7 1821.9C1184.2 1827.1 1185.9 1832.2 1187.9 1839.2C1189.8 1846.2 1195.1 1859.8 1196.5 1863.9" fill="none" stroke="#4a7a72" stroke-width="1.2" stroke-linecap="round"/>
<path d="M1145.9 1977.4C1144.7 1968.8 1157.0 1958.9 1178.0 1958.2C1196.5 1957.7 1210.1 1966.3 1211.8 1977.4Z" fill="#2b5d54"/>
<path d="M1211.3 1977.4C1212.5 1967.5 1223.6 1958.9 1238.4 1958.9C1253.3 1958.9 1265.1 1967.5 1265.6 1977.4Z" fill="#2b5d54"/>
<path d="M1238.4 1794.8C1248.3 1807.1 1268.1 1817.0 1292.7 1818.7C1317.4 1819.5 1337.1 1813.3 1350.7 1804.7L1350.7 1775.1L1238.4 1775.1Z" fill="#ad7a3a"/>
<path d="M1221.2 1665.8C1194.0 1678.2 1164.4 1693.0 1144.7 1715.2C1129.9 1732.5 1123.7 1749.7 1124.4 1762.1C1124.9 1776.9 1134.8 1789.2 1152.1 1795.4C1169.4 1801.1 1189.1 1800.3 1203.9 1796.6L1243.4 1795.4C1258.2 1801.6 1277.9 1804.5 1297.7 1804.0C1322.3 1803.0 1339.6 1796.6 1350.7 1786.8C1364.3 1776.9 1372.9 1769.5 1371.2 1757.1C1368.0 1737.4 1356.9 1717.7 1342.1 1695.5C1332.2 1680.7 1317.4 1668.3 1290.3 1656.0L1258.2 1663.4Z" fill="#e5a44e"/>
<path d="M1202.3 1784.2C1203.6 1777.9 1203.5 1775.3 1208.5 1770.6C1213.4 1765.8 1214.5 1766.4 1220.8 1766.4C1227.0 1766.4 1227.0 1765.8 1231.9 1770.6C1236.8 1775.3 1237.0 1777.2 1239.3 1784.2C1241.6 1791.1 1242.8 1791.6 1240.5 1796.5C1238.2 1801.4 1235.9 1802.0 1230.7 1802.7C1225.4 1803.3 1226.1 1799.6 1220.8 1799.0C1215.5 1798.3 1215.5 1801.5 1210.9 1800.2C1206.3 1798.9 1205.8 1798.3 1203.5 1794.0C1201.2 1789.8 1201.0 1790.4 1202.3 1784.2Z" fill="#f6dccf"/>
<path d="M1220.8 1769.4C1220.1 1771.0 1217.2 1775.5 1216.6 1779.2C1216.0 1782.9 1216.4 1788.4 1217.1 1791.6C1217.8 1794.8 1220.2 1797.3 1220.8 1798.5" fill="none" stroke="#8a6a5a" stroke-width="1" stroke-linecap="round"/>
<path d="M1206.0 1769.4C1205.0 1771.4 1201.0 1778.0 1199.8 1781.7C1198.6 1785.4 1198.8 1789.9 1198.6 1791.6" fill="none" stroke="#6b5a2a" stroke-width="1" stroke-linecap="round"/>
<path d="M1210.1 1609.1C1208.1 1618.6 1208.9 1632.1 1210.1 1643.6C1211.2 1655.2 1210.7 1653.0 1215.0 1658.4C1219.3 1663.9 1224.5 1663.3 1228.6 1667.1C1232.6 1670.8 1228.8 1671.4 1232.3 1674.5C1235.7 1677.5 1236.8 1679.3 1243.4 1680.2C1250.0 1681.0 1253.6 1681.4 1260.7 1678.2C1267.7 1675.0 1269.5 1672.1 1273.5 1666.3C1277.5 1660.6 1279.2 1657.7 1277.9 1653.5C1276.7 1649.4 1272.7 1652.0 1268.1 1648.6C1263.5 1645.1 1261.6 1646.8 1258.2 1638.7C1254.7 1630.6 1257.9 1622.4 1253.3 1614.0C1248.6 1605.7 1246.5 1605.5 1238.4 1602.9C1230.4 1600.3 1225.3 1601.5 1218.7 1602.9C1212.1 1604.4 1212.1 1599.6 1210.1 1609.1Z" fill="#f3d9cc"/>
<path d="M1219.9 1669.5C1221.4 1672.0 1224.7 1680.9 1228.6 1684.4C1232.5 1687.8 1237.6 1689.8 1243.4 1690.0C1249.1 1690.2 1257.0 1688.4 1263.1 1685.6C1269.3 1682.8 1275.9 1677.9 1280.4 1673.3C1284.9 1668.6 1288.6 1660.5 1290.3 1658.0" fill="none" stroke="#6b5a2a" stroke-width="1.8" stroke-linecap="round"/>
<path d="M1197.7 1706.6C1196.1 1710.9 1190.2 1723.2 1187.9 1732.5C1185.5 1741.7 1184.4 1757.1 1183.7 1762.1" fill="none" stroke="#6b5a2a" stroke-width="1.8" stroke-linecap="round"/>
<path d="M1291.5 1695.5C1293.3 1699.2 1299.8 1709.2 1302.6 1717.7C1305.4 1726.1 1307.1 1741.3 1308.0 1746.0" fill="none" stroke="#6b5a2a" stroke-width="1.8" stroke-linecap="round"/>
<path d="M1277.9 1753.4C1280.4 1752.6 1288.3 1750.2 1292.7 1748.5C1297.2 1746.9 1302.6 1744.4 1304.6 1743.6" fill="none" stroke="#6b5a2a" stroke-width="1.8" stroke-linecap="round"/>
<path d="M1201.4 1589.4C1203.4 1583.4 1203.2 1581.8 1213.8 1577.0C1224.3 1572.3 1228.4 1571.3 1240.9 1571.6C1253.4 1571.9 1250.8 1571.5 1260.7 1578.2C1270.5 1585.0 1272.3 1587.2 1277.9 1596.8C1283.5 1606.3 1281.6 1604.8 1281.6 1614.0C1281.6 1623.2 1280.6 1622.1 1277.9 1631.3C1275.3 1640.5 1275.0 1642.5 1271.8 1648.6C1268.5 1654.6 1268.7 1654.7 1265.6 1654.0C1262.5 1653.3 1262.1 1651.5 1260.2 1646.1C1258.2 1640.7 1259.7 1640.3 1258.2 1633.8C1256.7 1627.2 1257.1 1628.0 1254.5 1621.4C1251.9 1614.9 1253.3 1614.4 1248.3 1609.1C1243.4 1603.8 1243.9 1603.3 1236.0 1601.7C1228.1 1600.0 1226.6 1603.6 1218.7 1602.9C1210.8 1602.3 1211.0 1602.8 1206.4 1599.2C1201.8 1595.6 1199.5 1595.3 1201.4 1589.4Z" fill="#a9aaab"/>
<ellipse cx="1236.5" cy="1643.1" rx="7.9" ry="6.9" fill="#f5c3c0" opacity="0.5"/>
<rect x="1213.8" y="1623.9" width="2.5" height="7.9" fill="#3c3c3c" rx="1.2"/>
<rect x="1230.3" y="1625.1" width="2.5" height="7.9" fill="#3c3c3c" rx="1.2"/>
<path d="M1224.9 1643.6A3 3 0 1 0 1224.9 1648.1" fill="none" stroke="#3c3c3c" stroke-width="1.2"/>
<path d="M1218.2 1657.5C1219.1 1657.7 1221.8 1658.6 1223.6 1658.7C1225.4 1658.8 1228.2 1658.1 1229.1 1658.0" fill="none" stroke="#3c3c3c" stroke-width="1.3" stroke-linecap="round"/>
<path d="M1287.8 1648.6C1289.2 1647.2 1293.2 1646.8 1300.1 1649.6C1307.0 1652.3 1310.5 1655.8 1317.4 1660.4C1324.3 1665.0 1327.7 1666.3 1329.7 1669.3C1331.8 1672.3 1331.2 1674.2 1326.3 1673.3C1321.4 1672.3 1316.3 1669.5 1308.8 1665.4C1301.2 1661.2 1298.9 1659.4 1294.0 1655.5C1289.1 1651.6 1286.4 1650.0 1287.8 1648.6Z" fill="#f8e0d4"/>
<path d="M1381.6 1642.4C1372.2 1648.3 1367.7 1657.5 1356.9 1663.4C1346.0 1669.3 1331.7 1667.1 1327.3 1672.0C1322.8 1677.0 1330.2 1682.9 1334.7 1688.1C1339.1 1693.2 1343.1 1692.0 1349.5 1697.9C1355.9 1703.8 1358.9 1710.3 1366.8 1717.7C1374.7 1725.1 1380.8 1727.5 1389.0 1734.9C1397.1 1742.3 1402.5 1749.6 1407.5 1754.7C1412.4 1759.7 1407.0 1759.1 1413.6 1760.1C1420.3 1761.1 1430.4 1760.5 1440.8 1759.6C1451.2 1758.8 1455.6 1759.4 1465.5 1755.9C1475.3 1752.5 1484.6 1751.0 1490.1 1742.3C1495.7 1733.7 1493.6 1725.6 1493.1 1712.7C1492.6 1699.9 1491.2 1690.5 1487.7 1678.2C1484.1 1665.8 1481.8 1659.9 1475.3 1651.0C1468.9 1642.2 1463.5 1639.0 1455.6 1633.8C1447.7 1628.6 1446.2 1625.1 1435.9 1625.1C1425.5 1625.1 1414.6 1630.3 1403.8 1633.8C1392.9 1637.2 1390.9 1636.5 1381.6 1642.4Z" fill="#4c9a8a"/>
<path d="M1352.0 1697.9L1378.6 1685.1L1382.1 1700.9Z" fill="#f7f2ec"/>
<path d="M1397.6 1704.1C1400.3 1703.1 1408.9 1700.6 1413.6 1697.9C1418.4 1695.3 1423.9 1689.7 1426.0 1688.1" fill="none" stroke="#3f8277" stroke-width="2.1" stroke-linecap="round"/>
<path d="M1412.4 1723.8C1417.1 1721.6 1432.8 1715.8 1440.8 1710.3C1448.8 1704.7 1455.7 1696.7 1460.5 1690.5C1465.4 1684.4 1468.3 1676.1 1469.9 1673.3" fill="none" stroke="#3f8277" stroke-width="2.1" stroke-linecap="round"/>
<path d="M1363.1 1589.4C1360.2 1596.1 1361.7 1610.8 1364.3 1621.4C1366.9 1632.1 1369.0 1630.3 1374.2 1635.0C1379.3 1639.7 1381.9 1639.7 1386.5 1641.7C1391.1 1643.7 1387.0 1644.3 1393.9 1643.6C1400.8 1642.9 1408.3 1643.0 1416.1 1638.7C1423.9 1634.4 1427.2 1630.9 1427.2 1625.1C1427.2 1619.4 1421.6 1619.5 1416.1 1614.0C1410.6 1608.6 1409.5 1606.0 1403.8 1601.7C1398.0 1597.4 1397.8 1597.7 1391.4 1595.5C1385.1 1593.3 1383.3 1593.8 1376.6 1592.3C1370.0 1590.9 1365.9 1582.6 1363.1 1589.4Z" fill="#f8ddd0"/>
<path d="M1384.0 1642.4L1427.2 1624.6L1436.3 1631.3L1435.1 1648.6L1421.5 1663.4L1406.2 1654.0L1396.4 1663.4L1389.0 1651.0Z" fill="#86bdb1"/>
<path d="M1356.9 1577.0C1357.9 1569.8 1358.9 1568.1 1366.8 1562.2C1374.7 1556.3 1376.6 1556.3 1386.5 1554.8C1396.4 1553.4 1395.2 1554.5 1403.8 1556.8C1412.3 1559.1 1412.0 1558.0 1418.6 1563.4C1425.2 1568.8 1425.0 1568.8 1428.5 1577.0C1431.9 1585.2 1432.4 1585.4 1431.4 1594.3C1430.4 1603.2 1430.0 1603.0 1424.8 1610.3C1419.5 1617.7 1416.3 1621.6 1411.7 1621.9C1407.1 1622.3 1409.6 1616.4 1407.5 1611.6C1405.4 1606.7 1408.1 1607.7 1403.8 1603.7C1399.5 1599.6 1398.7 1599.0 1391.4 1596.3C1384.2 1593.5 1384.2 1595.1 1376.6 1593.3C1369.1 1591.5 1368.3 1593.7 1363.1 1589.4C1357.8 1585.0 1355.9 1584.3 1356.9 1577.0Z" fill="#4b1109"/>
<ellipse cx="1390.2" cy="1621.4" rx="5.9" ry="4.9" fill="#f5c3c0" opacity="0.45"/>
<rect x="1369.5" y="1605.4" width="2.2" height="7.4" fill="#3c3c3c" rx="1.1"/>
<rect x="1383.0" y="1606.6" width="2.2" height="7.4" fill="#3c3c3c" rx="1.1"/>
<path d="M1377.1 1618.2A2.8 2.8 0 1 0 1377.1 1622.7" fill="none" stroke="#3c3c3c" stroke-width="1.2"/>
<path d="M1374.2 1632.3C1374.9 1632.6 1377.1 1634.2 1378.6 1634.3C1380.1 1634.3 1382.3 1633.0 1383.0 1632.8" fill="none" stroke="#3c3c3c" stroke-width="1.3" stroke-linecap="round"/>
</g>
</svg>
</body>
</html>
